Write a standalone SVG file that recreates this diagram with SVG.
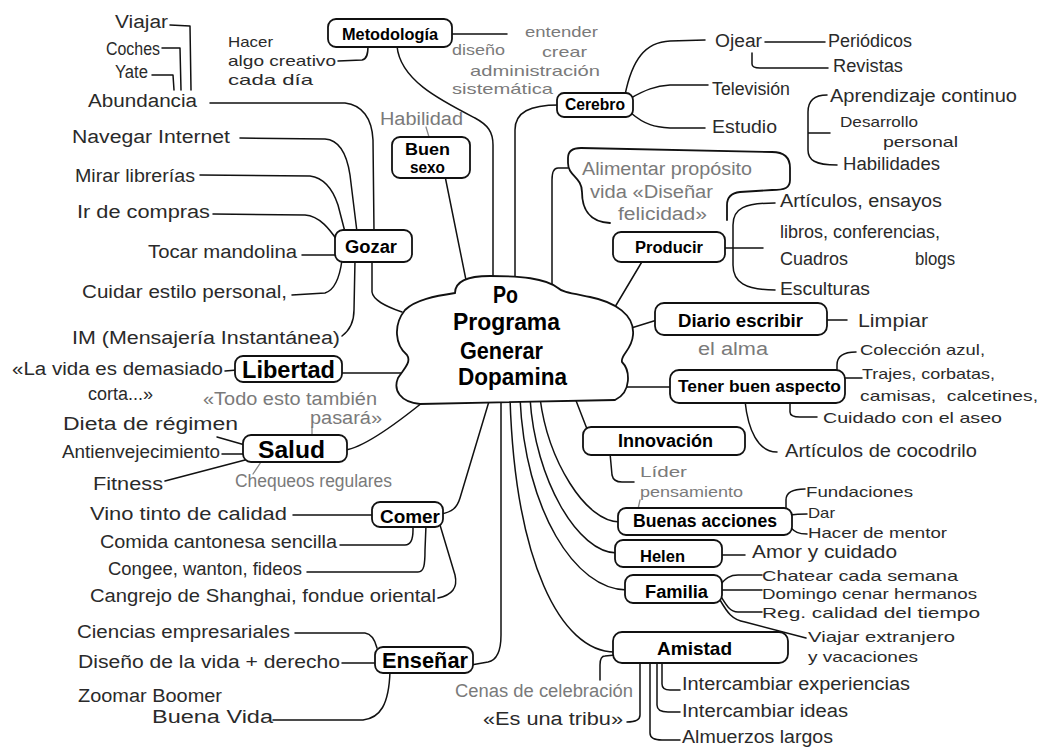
<svg xmlns="http://www.w3.org/2000/svg" width="1040" height="754" viewBox="0 0 1040 754">
<style>
text{font-family:"Liberation Sans",Arial,sans-serif}
.t{font-size:18px;fill:#2a2a2a}
.g{font-size:18px;fill:#7a7a7a}
.s{font-size:15px}
.n{font-weight:bold;fill:#000}
.c{font-size:23px;font-weight:bold;fill:#000}
.box{fill:#fff;stroke:#111;stroke-width:1.8}
.ln{fill:none;stroke:#111;stroke-width:1.5;stroke-linecap:round;stroke-linejoin:round}
.lg{fill:none;stroke:#888;stroke-width:1.3;stroke-linecap:round}
.sh{fill:none;stroke:#111;stroke-width:1.8;stroke-linecap:round}
</style>
<rect width="1040" height="754" fill="#fff"/>
<g id="connectors">
<path class="ln" d="M170 25 L190 26 L191 90"/>
<path class="ln" d="M162 48 L180 48 L181 90"/>
<path class="ln" d="M152 75 L173 75 L174 90"/>
<path class="ln" d="M210 103 L345 103 C362 105 372 118 373 140 L374 232"/>
<path class="ln" d="M240 138 L325 139 C340 140 347 155 350 175 L357 232"/>
<path class="ln" d="M200 175 L310 176 C325 178 333 190 338 205 L345 232"/>
<path class="ln" d="M213 214 L305 215 C320 216 330 230 337 240"/>
<path class="ln" d="M302 255 L337 255"/>
<path class="ln" d="M292 295 L325 293 C335 290 340 275 342 260"/>
<path class="ln" d="M342 336 C350 330 354 320 354 310 L355 260"/>
<path class="ln" d="M372 260 L372 292 C373 300 385 306 402 312"/>
<path class="ln" d="M338 61 L362 60 C367 59 368 54 368 46"/>
<path class="ln" d="M452 34 L507 34"/>
<path class="ln" d="M397 46 C400 80 440 100 475 118 C488 125 493 132 493 145 L493 285"/>
<path class="lg" d="M426 127 L429 137"/>
<path class="ln" d="M445 176 L467 285"/>
<path class="ln" d="M559 105 C530 105 515 112 515 130 L515 285"/>
<path class="ln" d="M625 95 C632 60 645 42 670 41 L705 40"/>
<path class="ln" d="M765 42 L825 42"/>
<path class="ln" d="M752 53 L752 64 C752 67 755 68 760 68 L828 68"/>
<path class="ln" d="M631 98 C645 90 655 86 670 85 L708 85"/>
<path class="ln" d="M631 113 C645 125 655 127 670 128 L705 128"/>
<path class="ln" d="M827 95 C815 95 808 100 808 112 L808 150 C808 160 815 165 837 165 M808 133 L830 133"/>
<path class="sh" d="M610 223 C588 222 582 207 582 192 C582 177 568 176 568 163 L568 158 C568 151 572 148 581 148 L772 152 C784 152 790 158 790 168 L790 180 C790 188 785 190 772 190 L740 192 C731 193 727 198 727 205 L727 220"/>
<path class="ln" d="M568 168 L558 168 C554 168 552 172 552 180 L552 288"/>
<path class="ln" d="M643 260 L612 312"/>
<path class="ln" d="M775 203 C745 203 733 208 733 225 L733 265 C733 282 745 290 775 290 M723 248 L763 248"/>
<path class="ln" d="M657 320 L628 329"/>
<path class="ln" d="M825 320 L847 320"/>
<path class="ln" d="M672 387 L620 387"/>
<path class="ln" d="M856 352 C843 352 837 357 837 365 L837 372 M843 378 L862 378"/>
<path class="ln" d="M790 401 L790 412 C790 416 795 417 800 417 L817 417"/>
<path class="ln" d="M745 401 C748 430 758 452 777 452"/>
<path class="ln" d="M575 398 L587 429"/>
<path class="ln" d="M610 453 L612 475 C613 480 617 482 622 482 L634 482"/>
<path class="lg" d="M640 500 L638 509"/>
<path class="ln" d="M540 398 C548 460 585 522 620 522"/>
<path class="ln" d="M786 510 L786 500 C786 493 792 489 805 489 M790 515 C797 514 800 514 807 514 M790 527 C795 532 798 534 807 534"/>
<path class="ln" d="M530 398 C535 480 578 553 617 553"/>
<path class="ln" d="M720 555 L745 555"/>
<path class="ln" d="M520 398 C525 510 575 590 627 590"/>
<path class="ln" d="M720 585 C726 578 730 575 738 575 L762 575 M720 590 L762 590 M720 595 C726 605 730 612 738 612 L762 612 M720 600 C727 612 732 620 745 622 L806 638"/>
<path class="ln" d="M510 398 C515 560 560 652 615 652"/>
<path class="ln" d="M615 655 L605 656 C601 656 600 660 600 665 L600 680"/>
<path class="ln" d="M640 661 L640 715 C640 720 635 722 627 722"/>
<path class="ln" d="M662 661 L662 684 C662 688 665 690 670 690 L680 690"/>
<path class="ln" d="M657 661 L657 705 C657 710 661 712 668 712 L680 712"/>
<path class="ln" d="M650 661 L650 733 C650 738 654 740 662 740 L680 740"/>
<path class="ln" d="M340 373 L402 373"/>
<path class="ln" d="M225 371 L237 370"/>
<path class="ln" d="M345 450 C362 448 395 425 428 398"/>
<path class="ln" d="M217 437 L245 445"/>
<path class="ln" d="M222 454 L245 454"/>
<path class="ln" d="M165 481 L245 460"/>
<path class="lg" d="M312 427 L312 436"/>
<path class="lg" d="M261 462 L253 474"/>
<path class="ln" d="M441 514 C452 512 457 508 460 498 L490 398"/>
<path class="ln" d="M293 515 L374 515"/>
<path class="ln" d="M340 545 L405 545 C411 545 413 540 413 530 L413 525"/>
<path class="ln" d="M307 572 L418 572 C424 572 425 565 425 550 L426 525"/>
<path class="ln" d="M438 598 C452 595 458 588 455 575 L440 525"/>
<path class="ln" d="M471 665 L488 662 C498 660 501 650 501 635 L501 398"/>
<path class="ln" d="M295 633 L365 633 C372 634 375 640 377 648"/>
<path class="ln" d="M342 663 L377 663"/>
<path class="ln" d="M273 720 L363 720 C380 718 389 705 390 671"/>
</g>
<g id="cloud">
<path class="box" d="M455 293 C455 280 470 276 490 276 C520 276 545 278 558 288 C562 292 570 293 590 297 C615 302 635 315 633 335 C632 350 620 355 622 362 C630 370 632 392 615 400 L420 404 C400 402 393 390 398 378 C403 370 412 362 407 355 C395 345 393 325 405 310 C415 300 435 296 455 293 Z"/>
<text class="c" x="493" y="303" textLength="25" lengthAdjust="spacingAndGlyphs">Po</text>
<text class="c" x="453" y="330" textLength="107" lengthAdjust="spacingAndGlyphs">Programa</text>
<text class="c" x="460" y="359" textLength="83" lengthAdjust="spacingAndGlyphs">Generar</text>
<text class="c" x="458" y="385" textLength="109" lengthAdjust="spacingAndGlyphs">Dopamina</text>
</g>
<g id="metodologia">
<rect class="box" x="328" y="19" width="124" height="28" rx="8"/>
<text class="n" x="342" y="40" font-size="16" textLength="96" lengthAdjust="spacingAndGlyphs">Metodología</text>
<text class="t s" x="228" y="47" textLength="45" lengthAdjust="spacingAndGlyphs">Hacer</text>
<text class="t s" x="228" y="66" textLength="108" lengthAdjust="spacingAndGlyphs">algo creativo</text>
<text class="t s" x="228" y="85" textLength="85" lengthAdjust="spacingAndGlyphs">cada día</text>
<text class="g s" x="525" y="37" textLength="73" lengthAdjust="spacingAndGlyphs">entender</text>
<text class="g s" x="452" y="55" textLength="53" lengthAdjust="spacingAndGlyphs">diseño</text>
<text class="g s" x="542" y="57" textLength="45" lengthAdjust="spacingAndGlyphs">crear</text>
<text class="g s" x="470" y="76" textLength="130" lengthAdjust="spacingAndGlyphs">administración</text>
<text class="g s" x="452" y="94" textLength="101" lengthAdjust="spacingAndGlyphs">sistemática</text>
</g>
<g id="buen-sexo">
<rect class="box" x="392" y="137" width="78" height="41" rx="8"/>
<text class="n" x="405" y="155" font-size="17" textLength="45" lengthAdjust="spacingAndGlyphs">Buen</text>
<text class="n" x="410" y="173" font-size="17" textLength="35" lengthAdjust="spacingAndGlyphs">sexo</text>
<text class="g" x="380" y="125" textLength="83" lengthAdjust="spacingAndGlyphs">Habilidad</text>
</g>
<g id="cerebro">
<rect class="box" x="557" y="93" width="76" height="24" rx="7"/>
<text class="n" x="565" y="110" font-size="16" textLength="60" lengthAdjust="spacingAndGlyphs">Cerebro</text>
<text class="t" x="715" y="47" textLength="47" lengthAdjust="spacingAndGlyphs">Ojear</text>
<text class="t" x="828" y="47" textLength="84" lengthAdjust="spacingAndGlyphs">Periódicos</text>
<text class="t" x="833" y="72" textLength="70" lengthAdjust="spacingAndGlyphs">Revistas</text>
<text class="t" x="712" y="95" textLength="78" lengthAdjust="spacingAndGlyphs">Televisión</text>
<text class="t" x="712" y="133" textLength="65" lengthAdjust="spacingAndGlyphs">Estudio</text>
<text class="t" x="830" y="102" textLength="187" lengthAdjust="spacingAndGlyphs">Aprendizaje continuo</text>
<text class="t s" x="840" y="127" textLength="78" lengthAdjust="spacingAndGlyphs">Desarrollo</text>
<text class="t s" x="883" y="147" textLength="75" lengthAdjust="spacingAndGlyphs">personal</text>
<text class="t" x="843" y="170" textLength="97" lengthAdjust="spacingAndGlyphs">Habilidades</text>
</g>
<g id="alimentar">
<text class="g" x="582" y="175" textLength="170" lengthAdjust="spacingAndGlyphs">Alimentar propósito</text>
<text class="g" x="590" y="198" textLength="123" lengthAdjust="spacingAndGlyphs">vida «Diseñar</text>
<text class="g" x="618" y="220" textLength="89" lengthAdjust="spacingAndGlyphs">felicidad»</text>
</g>
<g id="producir">
<rect class="box" x="613" y="232" width="112" height="30" rx="8"/>
<text class="n" x="635" y="253" font-size="16" textLength="68" lengthAdjust="spacingAndGlyphs">Producir</text>
<text class="t" x="780" y="207" textLength="162" lengthAdjust="spacingAndGlyphs">Artículos, ensayos</text>
<text class="t" x="780" y="238" textLength="160" lengthAdjust="spacingAndGlyphs">libros, conferencias,</text>
<text class="t" x="780" y="265" textLength="68" lengthAdjust="spacingAndGlyphs">Cuadros</text>
<text class="t" x="915" y="265" textLength="40" lengthAdjust="spacingAndGlyphs">blogs</text>
<text class="t" x="780" y="295" textLength="90" lengthAdjust="spacingAndGlyphs">Esculturas</text>
</g>
<g id="gozar">
<rect class="box" x="335" y="230" width="77" height="32" rx="8"/>
<text class="n" x="345" y="253" font-size="18" textLength="52" lengthAdjust="spacingAndGlyphs">Gozar</text>
<text class="t" x="115" y="28" textLength="53" lengthAdjust="spacingAndGlyphs">Viajar</text>
<text class="t" x="106" y="55" textLength="54" lengthAdjust="spacingAndGlyphs">Coches</text>
<text class="t" x="115" y="78" textLength="33" lengthAdjust="spacingAndGlyphs">Yate</text>
<text class="t" x="88" y="107" textLength="109" lengthAdjust="spacingAndGlyphs">Abundancia</text>
<text class="t" x="72" y="143" textLength="158" lengthAdjust="spacingAndGlyphs">Navegar Internet</text>
<text class="t" x="75" y="182" textLength="120" lengthAdjust="spacingAndGlyphs">Mirar librerías</text>
<text class="t" x="77" y="218" textLength="133" lengthAdjust="spacingAndGlyphs">Ir de compras</text>
<text class="t" x="148" y="258" textLength="149" lengthAdjust="spacingAndGlyphs">Tocar mandolina</text>
<text class="t" x="82" y="298" textLength="205" lengthAdjust="spacingAndGlyphs">Cuidar estilo personal,</text>
<text class="t" x="72" y="344" textLength="268" lengthAdjust="spacingAndGlyphs">IM (Mensajería Instantánea)</text>
</g>
<g id="diario">
<rect class="box" x="655" y="303" width="172" height="32" rx="9"/>
<text class="n" x="678" y="327" font-size="18" textLength="125" lengthAdjust="spacingAndGlyphs">Diario escribir</text>
<text class="t" x="858" y="327" textLength="70" lengthAdjust="spacingAndGlyphs">Limpiar</text>
<text class="g" x="698" y="355" textLength="70" lengthAdjust="spacingAndGlyphs">el alma</text>
</g>
<g id="tener">
<rect class="box" x="670" y="370" width="175" height="33" rx="9"/>
<text class="n" x="678" y="392" font-size="17" textLength="163" lengthAdjust="spacingAndGlyphs">Tener buen aspecto</text>
<text class="t s" x="860" y="355" textLength="125" lengthAdjust="spacingAndGlyphs">Colección azul,</text>
<text class="t s" x="862" y="379" textLength="133" lengthAdjust="spacingAndGlyphs">Trajes, corbatas,</text>
<text class="t s" x="860" y="401" textLength="178" lengthAdjust="spacingAndGlyphs">camisas,&#160; calcetines,</text>
<text class="t s" x="823" y="423" textLength="179" lengthAdjust="spacingAndGlyphs">Cuidado con el aseo</text>
<text class="t" x="785" y="457" textLength="192" lengthAdjust="spacingAndGlyphs">Artículos de cocodrilo</text>
</g>
<g id="libertad">
<rect class="box" x="235" y="356" width="107" height="26" rx="8"/>
<text class="n" x="242" y="378" font-size="23" textLength="93" lengthAdjust="spacingAndGlyphs">Libertad</text>
<text class="t" x="12" y="375" textLength="211" lengthAdjust="spacingAndGlyphs">«La vida es demasiado</text>
<text class="t" x="88" y="400" textLength="65" lengthAdjust="spacingAndGlyphs">corta...»</text>
<text class="g" x="203" y="405" textLength="174" lengthAdjust="spacingAndGlyphs">«Todo esto también</text>
<text class="g" x="310" y="424" textLength="72" lengthAdjust="spacingAndGlyphs">pasará»</text>
</g>
<g id="salud">
<rect class="box" x="243" y="435" width="104" height="27" rx="8"/>
<text class="n" x="258" y="458" font-size="24" textLength="67" lengthAdjust="spacingAndGlyphs">Salud</text>
<text class="t" x="63" y="430" textLength="175" lengthAdjust="spacingAndGlyphs">Dieta de régimen</text>
<text class="t" x="62" y="458" textLength="158" lengthAdjust="spacingAndGlyphs">Antienvejecimiento</text>
<text class="t" x="93" y="490" textLength="70" lengthAdjust="spacingAndGlyphs">Fitness</text>
<text class="g" x="235" y="487" textLength="157" lengthAdjust="spacingAndGlyphs">Chequeos regulares</text>
</g>
<g id="innovacion">
<rect class="box" x="583" y="427" width="162" height="28" rx="8"/>
<text class="n" x="618" y="447" font-size="18" textLength="95" lengthAdjust="spacingAndGlyphs">Innovación</text>
<text class="g s" x="640" y="477" textLength="47" lengthAdjust="spacingAndGlyphs">Líder</text>
<text class="g s" x="640" y="497" textLength="103" lengthAdjust="spacingAndGlyphs">pensamiento</text>
</g>
<g id="comer">
<rect class="box" x="372" y="502" width="71" height="25" rx="8"/>
<text class="n" x="380" y="523" font-size="19" textLength="60" lengthAdjust="spacingAndGlyphs">Comer</text>
<text class="t" x="90" y="520" textLength="197" lengthAdjust="spacingAndGlyphs">Vino tinto de calidad</text>
<text class="t" x="100" y="548" textLength="237" lengthAdjust="spacingAndGlyphs">Comida cantonesa sencilla</text>
<text class="t" x="108" y="575" textLength="194" lengthAdjust="spacingAndGlyphs">Congee, wanton, fideos</text>
<text class="t" x="90" y="602" textLength="346" lengthAdjust="spacingAndGlyphs">Cangrejo de Shanghai, fondue oriental</text>
</g>
<g id="buenas-acciones">
<rect class="box" x="618" y="508" width="174" height="27" rx="8"/>
<text class="n" x="633" y="527" font-size="18" textLength="144" lengthAdjust="spacingAndGlyphs">Buenas acciones</text>
<text class="t s" x="806" y="497" textLength="107" lengthAdjust="spacingAndGlyphs">Fundaciones</text>
<text class="t s" x="808" y="518" textLength="27" lengthAdjust="spacingAndGlyphs">Dar</text>
<text class="t s" x="808" y="538" textLength="139" lengthAdjust="spacingAndGlyphs">Hacer de mentor</text>
</g>
<g id="helen">
<rect class="box" x="615" y="540" width="107" height="27" rx="8"/>
<text class="n" x="640" y="562" font-size="17" textLength="45" lengthAdjust="spacingAndGlyphs">Helen</text>
<text class="t" x="752" y="558" textLength="145" lengthAdjust="spacingAndGlyphs">Amor y cuidado</text>
</g>
<g id="familia">
<rect class="box" x="625" y="575" width="97" height="28" rx="8"/>
<text class="n" x="645" y="598" font-size="18" textLength="63" lengthAdjust="spacingAndGlyphs">Familia</text>
<text class="t s" x="762" y="581" textLength="196" lengthAdjust="spacingAndGlyphs">Chatear cada semana</text>
<text class="t s" x="762" y="599" textLength="215" lengthAdjust="spacingAndGlyphs">Domingo cenar hermanos</text>
<text class="t s" x="762" y="618" textLength="218" lengthAdjust="spacingAndGlyphs">Reg. calidad del tiempo</text>
<text class="t s" x="808" y="642" textLength="147" lengthAdjust="spacingAndGlyphs">Viajar extranjero</text>
<text class="t s" x="808" y="662" textLength="110" lengthAdjust="spacingAndGlyphs">y vacaciones</text>
</g>
<g id="amistad">
<rect class="box" x="613" y="632" width="175" height="31" rx="9"/>
<text class="n" x="657" y="655" font-size="19" textLength="75" lengthAdjust="spacingAndGlyphs">Amistad</text>
<text class="g" x="455" y="697" textLength="178" lengthAdjust="spacingAndGlyphs">Cenas de celebración</text>
<text class="t" x="483" y="725" textLength="140" lengthAdjust="spacingAndGlyphs">«Es una tribu»</text>
<text class="t" x="682" y="690" textLength="228" lengthAdjust="spacingAndGlyphs">Intercambiar experiencias</text>
<text class="t" x="682" y="717" textLength="166" lengthAdjust="spacingAndGlyphs">Intercambiar ideas</text>
<text class="t" x="682" y="743" textLength="151" lengthAdjust="spacingAndGlyphs">Almuerzos largos</text>
</g>
<g id="ensenar">
<rect class="box" x="375" y="647" width="98" height="26" rx="8"/>
<text class="n" x="382" y="668" font-size="22" textLength="86" lengthAdjust="spacingAndGlyphs">Enseñar</text>
<text class="t" x="77" y="638" textLength="213" lengthAdjust="spacingAndGlyphs">Ciencias empresariales</text>
<text class="t" x="78" y="668" textLength="262" lengthAdjust="spacingAndGlyphs">Diseño de la vida + derecho</text>
<text class="t" x="78" y="702" textLength="144" lengthAdjust="spacingAndGlyphs">Zoomar Boomer</text>
<text class="t" x="152" y="723" textLength="121" lengthAdjust="spacingAndGlyphs">Buena Vida</text>
</g>
</svg>
